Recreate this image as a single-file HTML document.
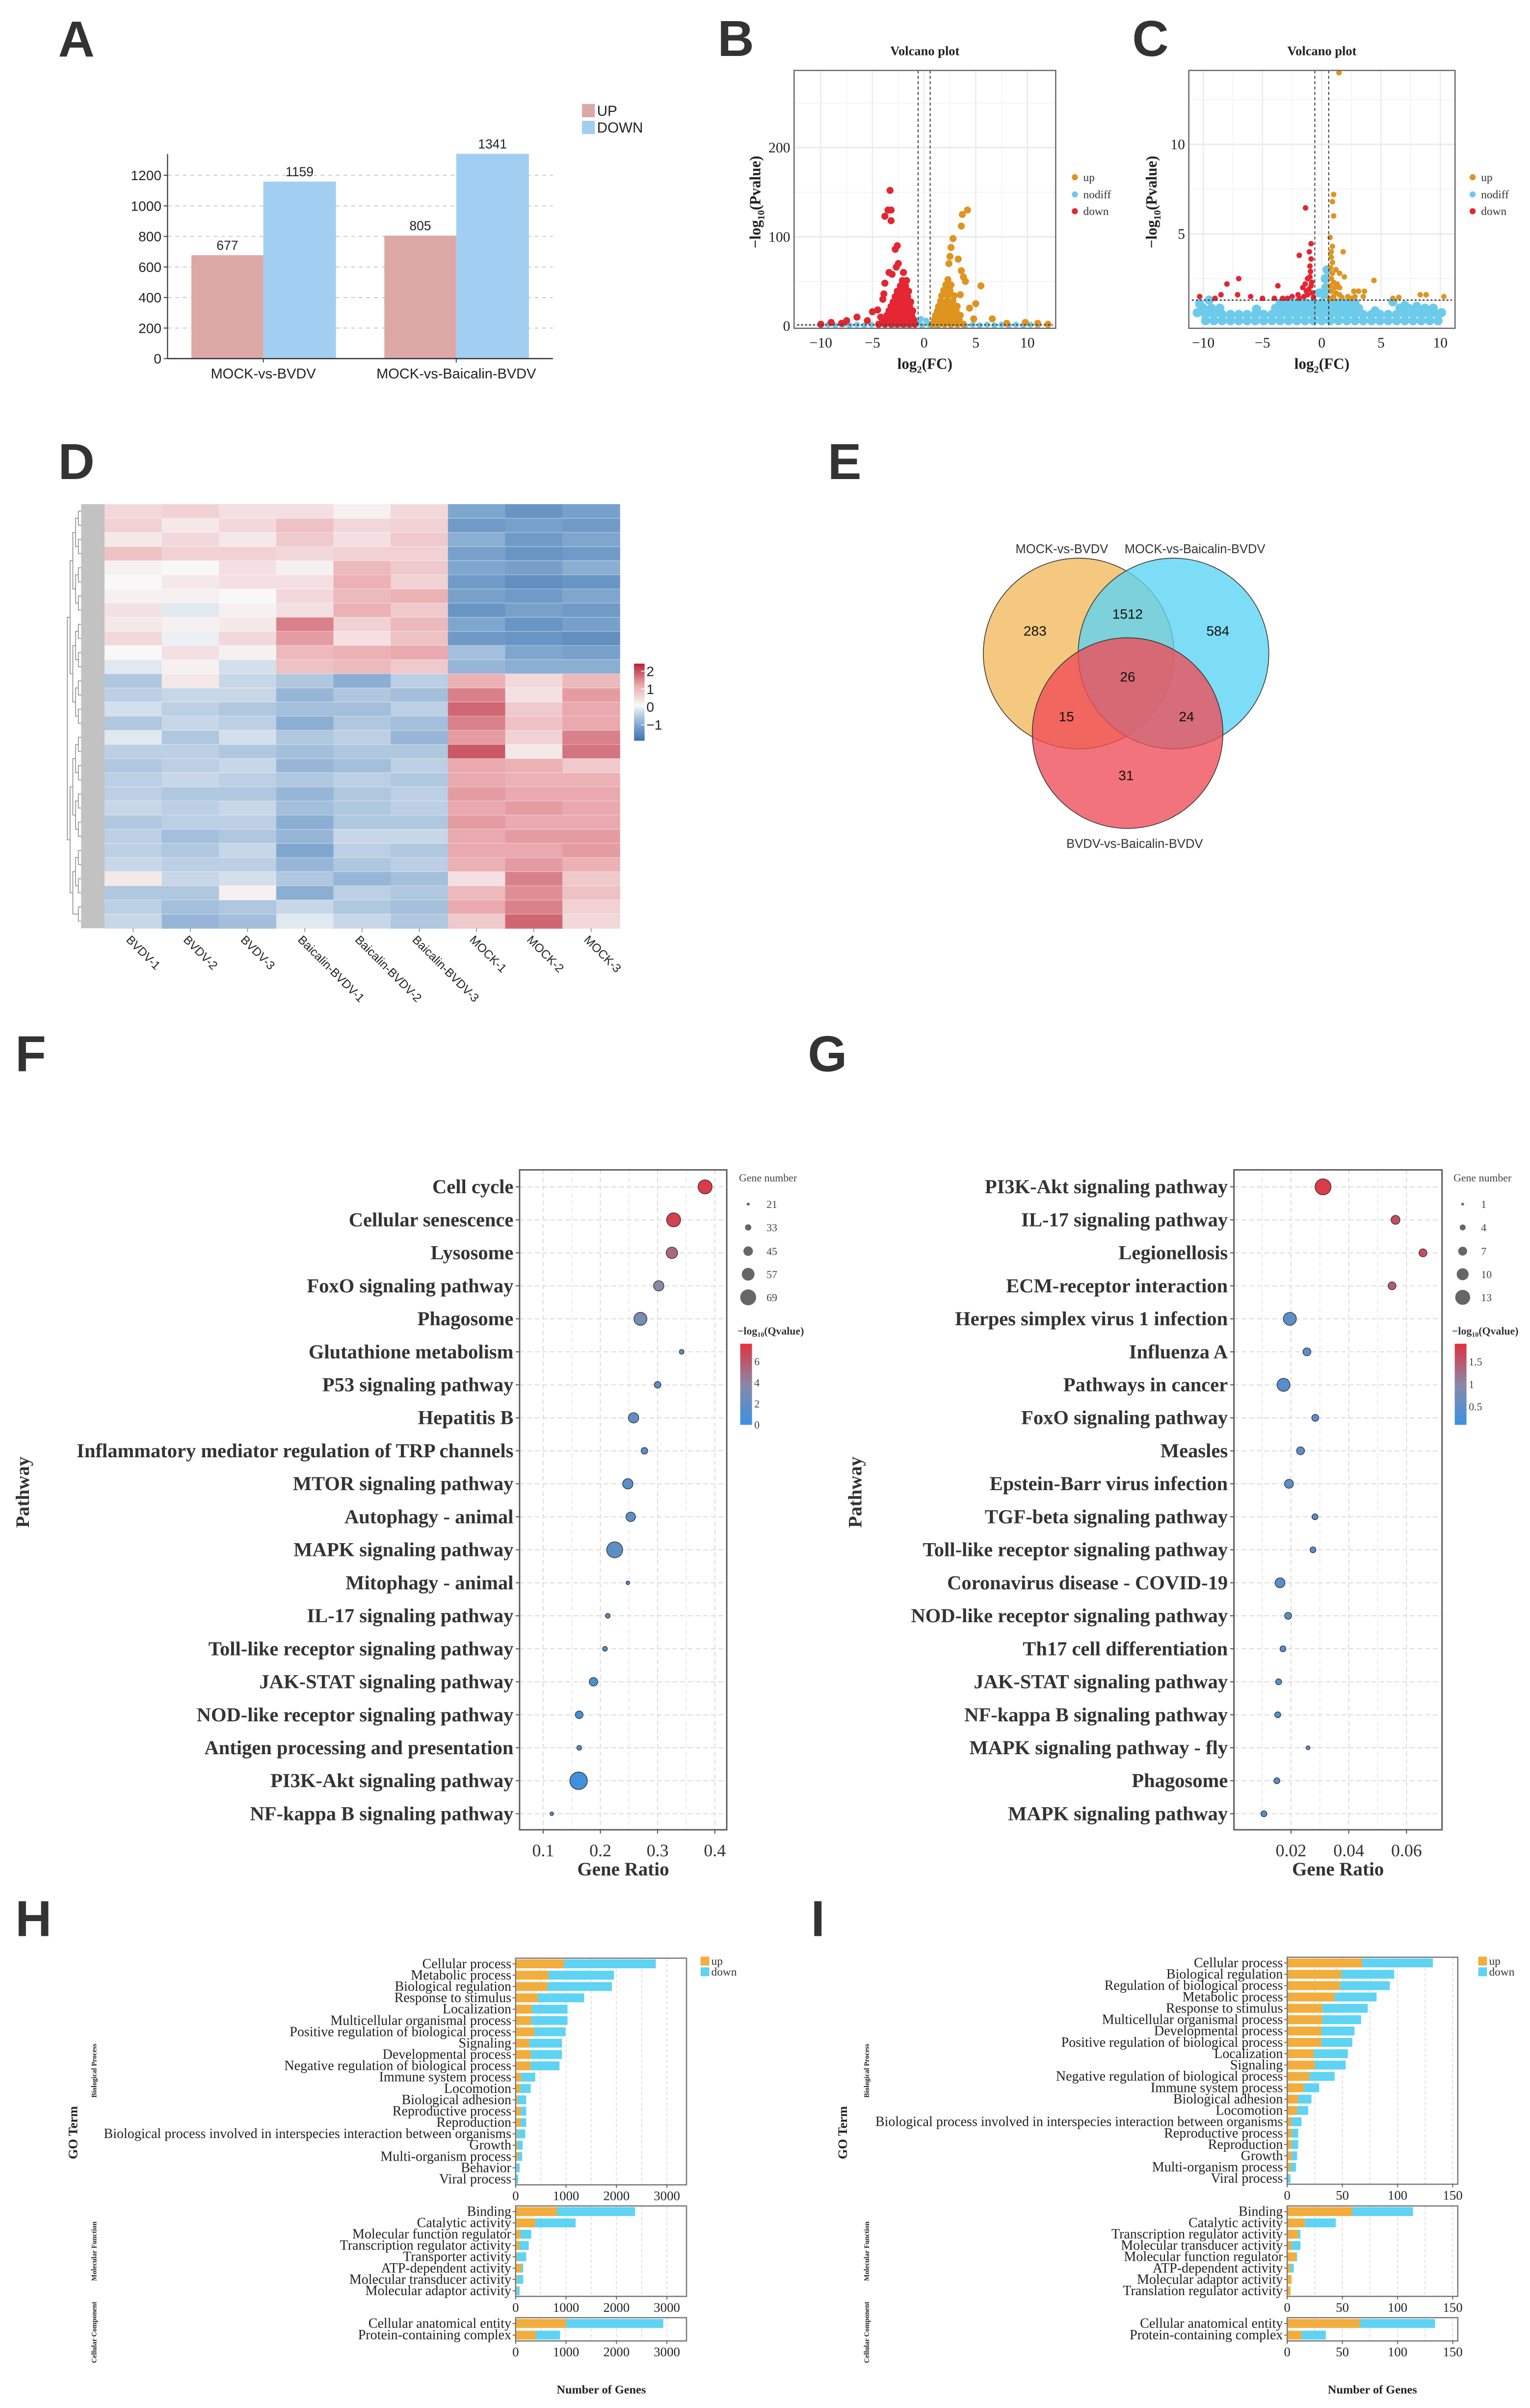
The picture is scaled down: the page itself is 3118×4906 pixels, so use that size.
<!DOCTYPE html>
<html><head><meta charset="utf-8">
<style>
html,body{margin:0;padding:0;background:#fff;}
svg{display:block;}
</style></head>
<body>
<svg id="fig" xmlns="http://www.w3.org/2000/svg" width="3118" height="4906" viewBox="0 0 1000 1573.4">
<rect x="0" y="0" width="1000" height="1573.4" fill="#fff"/>
<defs>
<linearGradient id="hmGrad" x1="0" y1="0" x2="0" y2="1">
<stop offset="0" stop-color="#b52435"/><stop offset="0.28" stop-color="#e9a9ae"/><stop offset="0.54" stop-color="#f8f8f8"/><stop offset="0.8" stop-color="#7fa6cf"/><stop offset="1" stop-color="#3d72ad"/>
</linearGradient>
<linearGradient id="qGrad" x1="0" y1="0" x2="0" y2="1">
<stop offset="0" stop-color="#e2323f"/><stop offset="0.5" stop-color="#8a88a6"/><stop offset="1" stop-color="#3a92e2"/>
</linearGradient>
</defs>
</svg>
<script>
// ---------- DATA ----------
const aCats=['MOCK-vs-BVDV','MOCK-vs-Baicalin-BVDV'];
const aUp=[677,805];
const aDown=[1159,1341];
const aTicks=[0,200,400,600,800,1000,1200];

const bDown=[[-4.4,2],[-3.8,2],[-3.2,2],[-2.6,2],[-2.0,2],[-1.4,2],[-0.9,2],[-4.0,7],[-3.4,7],[-2.8,7],[-2.2,7],[-1.6,7],[-1.0,7],[-3.6,12],[-3.0,12],[-2.4,12],[-1.8,12],[-1.2,12],[-3.4,17],[-2.8,17],[-2.2,17],[-1.6,17],[-1.1,17],[-3.2,22],[-2.6,22],[-2.0,22],[-1.4,22],[-3.0,27],[-2.4,27],[-1.8,27],[-1.3,27],[-2.8,33],[-2.2,33],[-1.6,33],[-2.6,39],[-2.0,39],[-1.5,39],[-2.3,45],[-1.8,45],[-2.1,51],[-1.7,51],[-3.3,152],[-3.5,130],[-3.2,130],[-3.8,123],[-3.2,118],[-2.6,90],[-2.8,86],[-2.5,70],[-2.7,66],[-3.4,60],[-3.1,58],[-2.0,60],[-3.8,48],[-4.5,18],[-5,16],[-4.2,10],[-6.5,10],[-7.5,6],[-9,4],[-8,3],[-10,2],[-5.5,6],[-3.9,36],[-4,30],[-2.9,4],[-1.9,4]];
const bUp=[[0.8,2],[1.4,2],[2.0,2],[2.6,2],[3.2,2],[3.8,2],[1.0,7],[1.6,7],[2.2,7],[2.8,7],[3.4,7],[1.1,12],[1.7,12],[2.3,12],[2.9,12],[3.5,12],[1.3,17],[1.9,17],[2.5,17],[3.1,17],[1.4,22],[2.0,22],[2.6,22],[3.2,22],[1.6,28],[2.2,28],[2.8,28],[1.7,34],[2.3,34],[2.9,34],[1.9,40],[2.5,40],[2.1,46],[2.6,46],[2.3,52],[4.2,130],[3.7,125],[3.6,112],[2.8,98],[2.6,88],[2.5,78],[3.3,75],[2.4,70],[3.6,62],[3.8,55],[4,50],[5.5,45],[3.5,35],[5,25],[4.4,20],[6.6,8],[4.8,8],[9.8,4],[11,3],[12,2],[8,3]];
const bNodiff=[[-10,0.8],[-9.3,1.5],[-8.6,0.8],[-7.9,1.5],[-7.2,0.8],[-6.5,1.5],[-5.8,0.8],[-5.1,1.5],[-4.4,0.8],[-3.7,1.5],[-3,0.8],[-2.3,1.5],[-1.6,0.8],[-0.9,1.5],[-0.2,0.8],[0.5,1.5],[1.2,0.8],[1.9,1.5],[2.6,0.8],[3.3,1.5],[4,0.8],[4.7,1.5],[5.4,0.8],[6.1,1.5],[6.8,0.8],[7.5,1.5],[8.2,0.8],[8.9,1.5],[9.6,0.8],[10.3,1.5],[11,0.8],[-0.3,8],[0.2,6],[-0.5,4],[0.4,3]];

const cNodiff=[[-9.8,0.15],[-9.1,0.15],[-8.4,0.15],[-7.7,0.15],[-7.0,0.15],[-6.3,0.15],[-5.6,0.15],[-4.9,0.15],[-4.2,0.15],[-3.5,0.15],[-2.8,0.15],[-2.1,0.15],[-1.4,0.15],[-0.7,0.15],[0,0.15],[0.7,0.15],[1.4,0.15],[2.1,0.15],[2.8,0.15],[3.5,0.15],[4.2,0.15],[4.9,0.15],[5.6,0.15],[6.3,0.15],[7.0,0.15],[7.7,0.15],[8.4,0.15],[9.1,0.15],[9.8,0.15],
[-9.8,0.5],[-9.1,0.5],[-8.4,0.5],[-7.7,0.5],[-7.0,0.5],[-6.3,0.5],[-5.6,0.5],[-4.9,0.5],[-4.2,0.5],[-3.5,0.5],[-2.8,0.5],[-2.1,0.5],[-1.4,0.5],[-0.7,0.5],[0,0.5],[0.7,0.5],[1.4,0.5],[2.1,0.5],[2.8,0.5],[3.5,0.5],[4.2,0.5],[4.9,0.5],[5.6,0.5],[6.3,0.5],[7.0,0.5],[7.7,0.5],[8.4,0.5],[9.1,0.5],[9.8,0.5],
[-10,0.85],[-9.3,0.85],[-8.6,0.85],[-3.9,0.85],[-3.2,0.85],[-2.5,0.85],[-1.8,0.85],[-1.1,0.85],[-0.4,0.85],[0.3,0.85],[1.0,0.85],[1.7,0.85],[2.4,0.85],[3.1,0.85],[6.6,0.85],[7.3,0.85],[8.0,0.85],[8.7,0.85],[9.4,0.85],[10.1,0.6],
[-3.5,1.15],[-2.8,1.15],[-2.1,1.15],[-1.4,1.15],[-0.7,1.15],[0,1.15],[0.7,1.15],[1.4,1.15],[2.1,1.15],[2.8,1.15],
[-10.5,0.6],[-10.3,1.1],[-9.5,1.3],[0.3,2.5],[0.45,3.0],[0.35,2.0],[-0.2,1.7],[0.2,1.6],[6,1.2],[7,1.0],[8,0.95],[-5.5,0.8],[4.5,0.7]];
const cDown=[[-1.37,6.45],[-0.9,4.45],[-1.9,3.8],[-0.9,3.6],[-1.0,3.2],[-0.95,2.9],[-1.2,2.5],[-1.4,2.2],[-0.9,2.1],[-1.1,1.9],[-1.6,2.0],[-1.3,1.8],[-0.8,1.7],[-1.2,1.6],[-2.0,1.6],[-2.5,1.5],[-3.7,2.1],[-1.9,1.4],[-2.9,1.4],[-4,1.4],[-6,1.5],[-7,2.5],[-7.1,1.6],[-8,2.2],[-8.5,1.6],[-10.3,1.5],[-9,1.4],[-1.0,2.6],[-0.85,2.3],[-1.5,1.5],[-0.7,1.45],[-3.3,1.4],[-5,1.4],[-1.05,4.0]];
const cUp=[[1.45,14.0],[1.0,7.2],[0.9,6.8],[1.0,6.0],[0.7,4.8],[0.9,4.3],[0.8,4.0],[1.8,4.0],[0.8,3.7],[0.9,3.4],[0.75,3.1],[1.2,3.0],[0.9,2.8],[1.5,2.8],[1.9,2.6],[0.8,2.5],[1.0,2.3],[1.3,2.2],[0.7,2.1],[1.1,2.0],[4.4,2.4],[2.7,1.8],[3.1,1.8],[3.6,1.8],[0.8,1.8],[1.2,1.7],[1.5,1.6],[2.2,1.5],[2.8,1.5],[3.5,1.5],[8.3,1.6],[8.8,1.6],[10.3,1.5],[6,1.4],[6.5,1.45],[1.7,1.45],[2.5,1.4],[0.65,1.4],[1.0,1.5],[1.5,2.0],[1.0,1.4]];

const hmCols=['BVDV-1','BVDV-2','BVDV-3','Baicalin-BVDV-1','Baicalin-BVDV-2','Baicalin-BVDV-3','MOCK-1','MOCK-2','MOCK-3'];
const hmVals=[
[0.4,0.5,0.3,0.3,0.1,0.4,-1.0,-1.3,-1.1],
[0.5,0.2,0.4,0.7,0.4,0.5,-1.2,-1.1,-1.2],
[0.2,0.4,0.2,0.6,0.3,0.6,-0.9,-1.2,-1.0],
[0.7,0.5,0.5,0.4,0.5,0.5,-1.1,-1.3,-1.2],
[0.1,0.0,0.3,0.1,0.8,0.6,-1.0,-1.1,-0.9],
[0.0,0.2,0.3,0.3,0.9,0.5,-1.2,-1.4,-1.3],
[0.1,0.1,0.0,0.4,0.8,0.9,-1.1,-1.2,-1.0],
[0.3,-0.2,0.1,0.3,0.9,0.6,-1.3,-1.1,-1.2],
[0.2,0.1,0.2,1.3,0.5,0.8,-1.0,-1.3,-1.1],
[0.4,-0.1,0.4,1.1,0.3,0.7,-1.2,-1.3,-1.4],
[0.0,0.3,0.1,0.8,0.9,1.0,-0.7,-1.0,-1.1],
[-0.2,0.1,-0.3,0.7,0.8,0.6,-0.8,-0.9,-0.9],
[-0.6,0.2,-0.4,-0.6,-0.9,-0.5,0.9,0.4,0.8],
[-0.5,-0.4,-0.4,-0.8,-0.6,-0.7,1.3,0.3,1.1],
[-0.3,-0.5,-0.6,-0.7,-0.7,-0.5,1.5,0.6,1.0],
[-0.6,-0.4,-0.5,-0.9,-0.6,-0.7,1.3,0.7,1.0],
[-0.2,-0.6,-0.3,-0.6,-0.5,-0.8,1.1,0.5,1.3],
[-0.5,-0.5,-0.6,-0.7,-0.6,-0.6,1.6,0.2,1.4],
[-0.6,-0.5,-0.4,-0.8,-0.7,-0.5,1.0,0.9,0.6],
[-0.5,-0.4,-0.5,-0.6,-0.5,-0.6,1.0,0.9,0.9],
[-0.5,-0.6,-0.6,-0.8,-0.6,-0.5,1.1,1.0,1.0],
[-0.4,-0.5,-0.4,-0.7,-0.6,-0.5,1.0,1.1,1.0],
[-0.6,-0.5,-0.5,-0.9,-0.6,-0.6,1.1,1.0,1.0],
[-0.5,-0.7,-0.6,-0.8,-0.4,-0.4,1.0,1.1,1.1],
[-0.5,-0.6,-0.4,-1.0,-0.5,-0.6,1.0,1.0,1.1],
[-0.4,-0.5,-0.5,-0.8,-0.6,-0.5,0.9,1.1,0.9],
[0.2,-0.4,-0.3,-0.6,-0.8,-0.7,0.3,1.3,0.6],
[-0.6,-0.6,0.1,-0.9,-0.5,-0.6,0.8,1.2,0.7],
[-0.5,-0.7,-0.6,-0.4,-0.6,-0.7,1.0,1.3,0.5],
[-0.4,-0.8,-0.7,-0.2,-0.4,-0.6,0.6,1.5,0.4]];
const hmTicks=[2,1,0,-1];

const vennLabels=['MOCK-vs-BVDV','MOCK-vs-Baicalin-BVDV','BVDV-vs-Baicalin-BVDV'];
const vennCounts=[283,1512,584,26,15,24,31];

const fPath=['Cell cycle','Cellular senescence','Lysosome','FoxO signaling pathway','Phagosome','Glutathione metabolism','P53 signaling pathway','Hepatitis B','Inflammatory mediator regulation of TRP channels','MTOR signaling pathway','Autophagy - animal','MAPK signaling pathway','Mitophagy - animal','IL-17 signaling pathway','Toll-like receptor signaling pathway','JAK-STAT signaling pathway','NOD-like receptor signaling pathway','Antigen processing and presentation','PI3K-Akt signaling pathway','NF-kappa B signaling pathway'];
const fRatio=[0.383,0.328,0.325,0.302,0.270,0.342,0.300,0.258,0.277,0.248,0.253,0.225,0.248,0.213,0.208,0.188,0.163,0.163,0.162,0.115];
const fCount=[62,62,52,48,58,27,34,48,34,48,45,69,23,27,27,41,38,27,75,23];
const fQ=[7.2,7.0,5.2,3.6,3.0,2.0,1.5,1.8,1.5,1.6,1.5,1.7,1.0,0.8,0.8,0.7,0.5,0.5,0.3,0.5];
const fTicks=[0.1,0.2,0.3,0.4];
const fSizeLegend=[21,33,45,57,69];
const fQTicks=[6,4,2,0];

const gPath=['PI3K-Akt signaling pathway','IL-17 signaling pathway','Legionellosis','ECM-receptor interaction','Herpes simplex virus 1 infection','Influenza A','Pathways in cancer','FoxO signaling pathway','Measles','Epstein-Barr virus infection','TGF-beta signaling pathway','Toll-like receptor signaling pathway','Coronavirus disease - COVID-19','NOD-like receptor signaling pathway','Th17 cell differentiation','JAK-STAT signaling pathway','NF-kappa B signaling pathway','MAPK signaling pathway - fly','Phagosome','MAPK signaling pathway'];
const gRatio=[0.0311,0.0562,0.0657,0.055,0.0196,0.0255,0.0174,0.0284,0.0233,0.0193,0.0283,0.0276,0.0162,0.019,0.0172,0.0157,0.0154,0.0259,0.0151,0.0106];
const gCount=[14,7,6,6,11,6,11,5,6,7,4,4,8,5,4,4,4,2,4,4];
const gQ=[1.8,1.6,1.6,1.5,0.4,0.4,0.35,0.4,0.4,0.4,0.35,0.35,0.35,0.35,0.3,0.3,0.3,0.3,0.3,0.3];
const gTicks=[0.02,0.04,0.06];
const gSizeLegend=[1,4,7,10,13];
const gQTicks=[1.5,1,0.5];

const hBP=['Cellular process','Metabolic process','Biological regulation','Response to stimulus','Localization','Multicellular organismal process','Positive regulation of biological process','Signaling','Developmental process','Negative regulation of biological process','Immune system process','Locomotion','Biological adhesion','Reproductive process','Reproduction','Biological process involved in interspecies interaction between organisms','Growth','Multi-organism process','Behavior','Viral process'];
const hBPup=[960,650,630,440,320,310,370,270,300,300,110,90,40,100,100,30,40,50,20,10];
const hBPdown=[1820,1300,1280,920,710,720,620,650,620,570,280,210,170,110,110,160,100,80,60,40];
const hMF=['Binding','Catalytic activity','Molecular function regulator','Transcription regulator activity','Transporter activity','ATP-dependent activity','Molecular transducer activity','Molecular adaptor activity'];
const hMFup=[820,390,100,80,30,110,30,20];
const hMFdown=[1550,800,210,180,180,40,120,60];
const hCC=['Cellular anatomical entity','Protein-containing complex'];
const hCCup=[1000,400];
const hCCdown=[1930,480];
const hTicks=[0,1000,2000,3000];

const iBP=['Cellular process','Biological regulation','Regulation of biological process','Metabolic process','Response to stimulus','Multicellular organismal process','Developmental process','Positive regulation of biological process','Localization','Signaling','Negative regulation of biological process','Immune system process','Biological adhesion','Locomotion','Biological process involved in interspecies interaction between organisms','Reproductive process','Reproduction','Growth','Multi-organism process','Viral process'];
const iBPup=[68,49,48,43,32,32,31,31,24,25,20,15,10,9,4,4,4,4,3,0];
const iBPdown=[64,48,45,38,41,35,30,28,31,28,23,14,12,10,9,6,6,5,5,3];
const iMF=['Binding','Catalytic activity','Transcription regulator activity','Molecular transducer activity','Molecular function regulator','ATP-dependent activity','Molecular adaptor activity','Translation regulator activity'];
const iMFup=[59,16,10,4,8,3,4,3];
const iMFdown=[55,28,2,8,1,3,0,0];
const iCC=['Cellular anatomical entity','Protein-containing complex'];
const iCCup=[66,13];
const iCCdown=[68,22];
const iTicks=[0,50,100,150];

// ---------- HELPERS ----------
const NS='http://www.w3.org/2000/svg';
const svg=document.getElementById('fig');
const SANS='"Liberation Sans", Arial, sans-serif';
const SERIF='"Liberation Serif", "Times New Roman", serif';
function mk(tag,attrs,parent){const e=document.createElementNS(NS,tag);for(const k in attrs)e.setAttribute(k,attrs[k]);(parent||svg).appendChild(e);return e;}
function tx(x,y,s,attrs,parent){const e=mk('text',Object.assign({x:x,y:y},attrs),parent);e.textContent=s;return e;}
function grp(name){const g=mk('g',{});


return g;}
function lerp(a,b,t){return Math.round(a+(b-a)*t);}
function mix(c1,c2,t){t=Math.max(0,Math.min(1,t));return 'rgb('+lerp(c1[0],c2[0],t)+','+lerp(c1[1],c2[1],t)+','+lerp(c1[2],c2[2],t)+')';}

const letters=[['A',38,36.8],['B',469,36.5],['C',740,36.5],['D',38,313],['E',541,313],['F',10,700],['G',528,700],['H',10,1265],['I',530,1265]];
letters.forEach(l=>{
  const t=tx(l[1],l[2],l[0],{'font-family':SANS,'font-size':33,'font-weight':'bold',fill:'#333'});
  
  
});

// ---------- PANEL A ----------
(function(){
  const g=grp('panel-a-bar-chart');
  const X0=109.5,X1=361.4,Y0=234.3;
  const yA=v=>Y0-v*0.0998;
  const cx=[172.1,298.2];
  aTicks.forEach(t=>{
    if(t>0){const gl=mk('line',{x1:X0,x2:X1,y1:yA(t),y2:yA(t),stroke:'#cfcfcf','stroke-width':0.7,'stroke-dasharray':'2.5,2.5'},g);
    }
    const tk=mk('line',{x1:X0-2.5,x2:X0,y1:yA(t),y2:yA(t),stroke:'#333','stroke-width':0.6},g);
    
    const lb=tx(X0-4,yA(t)+3.2,String(t),{'font-family':SANS,'font-size':9,'text-anchor':'end',fill:'#222'},g);
    
  });
  aCats.forEach((c,i)=>{
    const up=mk('rect',{x:cx[i]-47,y:yA(aUp[i]),width:47,height:Y0-yA(aUp[i]),fill:'#dca8a6'},g);
    
    
    const dn=mk('rect',{x:cx[i],y:yA(aDown[i]),width:47.5,height:Y0-yA(aDown[i]),fill:'#a2cff1'},g);
    
    
    const l1=tx(cx[i]-23.5,yA(aUp[i])-3.5,String(aUp[i]),{'font-family':SANS,'font-size':8.5,'text-anchor':'middle',fill:'#222'},g);
    
    const l2=tx(cx[i]+23.7,yA(aDown[i])-3.5,String(aDown[i]),{'font-family':SANS,'font-size':8.5,'text-anchor':'middle',fill:'#222'},g);
    
    const xt=mk('line',{x1:cx[i],x2:cx[i],y1:Y0,y2:Y0+2.5,stroke:'#333','stroke-width':0.6},g);
    
    const xl=tx(cx[i],Y0+13,c,{'font-family':SANS,'font-size':9.3,'text-anchor':'middle',fill:'#222'},g);
    
  });
  const ax=mk('line',{x1:X0,x2:X0,y1:100.6,y2:Y0,stroke:'#333','stroke-width':0.7},g);
  
  const ax2=mk('line',{x1:X0,x2:X1,y1:Y0,y2:Y0,stroke:'#333','stroke-width':0.8},g);
  
  const r1=mk('rect',{x:380.4,y:67.9,width:8.3,height:8.7,fill:'#dca8a6'},g);
  
  const r2=mk('rect',{x:380.4,y:78.9,width:8.3,height:8.7,fill:'#a2cff1'},g);
  
  const t1=tx(390.2,75.6,'UP',{'font-family':SANS,'font-size':9.5,fill:'#222'},g);
  
  const t2=tx(390.2,86.6,'DOWN',{'font-family':SANS,'font-size':9.5,fill:'#222'},g);
  
})();

// ---------- VOLCANO ----------
function volcano(cfg){
  const g=grp(cfg.name);
  const xs=v=>cfg.x0+v*cfg.xk, ys=v=>cfg.y0-v*cfg.yk;
  const fr=mk('rect',{x:cfg.L,y:cfg.T,width:cfg.R-cfg.L,height:cfg.B-cfg.T,fill:'#fff',stroke:'none'},g);
  
  cfg.xMinor.forEach(v=>{const l=mk('line',{x1:xs(v),x2:xs(v),y1:cfg.T,y2:cfg.B,stroke:'#f3f3f3','stroke-width':0.5},g);
    });
  cfg.yMinor.forEach(v=>{const l=mk('line',{x1:cfg.L,x2:cfg.R,y1:ys(v),y2:ys(v),stroke:'#f3f3f3','stroke-width':0.6},g);
    });
  cfg.xTicks.forEach(v=>{const l=mk('line',{x1:xs(v),x2:xs(v),y1:cfg.T,y2:cfg.B,stroke:'#ebebeb','stroke-width':0.8},g);
    
    const t=tx(xs(v),cfg.B+12.5,(v<0?'\u2212':'')+Math.abs(v),{'font-family':SERIF,'font-size':9.5,'text-anchor':'middle',fill:'#222'},g);
    });
  cfg.yTicks.forEach(v=>{const l=mk('line',{x1:cfg.L,x2:cfg.R,y1:ys(v),y2:ys(v),stroke:'#ebebeb','stroke-width':1},g);
    
    const t=tx(cfg.L-2.5,ys(v)+3.2,String(v),{'font-family':SERIF,'font-size':9.5,'text-anchor':'end',fill:'#222'},g);
    });
  const dotR=cfg.r;
  cfg.nodiff.forEach(p=>{const c=mk('circle',{cx:xs(p[0]),cy:ys(p[1]),r:cfg.rn,fill:'#6ccbeb'},g);
    });
  cfg.down.forEach(p=>{const c=mk('circle',{cx:xs(p[0]),cy:ys(p[1]),r:dotR,fill:'#e32632'},g);
    });
  cfg.up.forEach(p=>{const c=mk('circle',{cx:xs(p[0]),cy:ys(p[1]),r:dotR,fill:'#df9420'},g);
    });
  [-0.585,0.585].forEach(v=>{const l=mk('line',{x1:xs(v),x2:xs(v),y1:cfg.T,y2:cfg.B,stroke:'#333','stroke-width':0.6,'stroke-dasharray':'2,1.5'},g);
    });
  const hl=mk('line',{x1:cfg.L+2,x2:cfg.R-2,y1:ys(1.3),y2:ys(1.3),stroke:'#444','stroke-width':0.9,'stroke-dasharray':'1.3,1.3'},g);
  
  const bd=mk('rect',{x:cfg.L,y:cfg.T,width:cfg.R-cfg.L,height:cfg.B-cfg.T,fill:'none',stroke:'#666','stroke-width':0.8},g);
  
  const ti=tx((cfg.L+cfg.R)/2,36,'Volcano plot',{'font-family':SERIF,'font-size':8.5,'font-weight':'bold','text-anchor':'middle',fill:'#222'},g);
  
  const yl=mk('text',{x:0,y:0,transform:'translate('+cfg.ylx+',132) rotate(-90)','font-family':SERIF,'font-size':10,'font-weight':'bold','text-anchor':'middle',fill:'#222'},g);
  yl.innerHTML='\u2212log<tspan font-size="6.5" dy="2.5">10</tspan><tspan dy="-2.5">(Pvalue)</tspan>';
  
  const xl=mk('text',{x:(cfg.L+cfg.R)/2,y:241,'font-family':SERIF,'font-size':10,'font-weight':'bold','text-anchor':'middle',fill:'#222'},g);
  xl.innerHTML='log<tspan font-size="6.5" dy="2.5">2</tspan><tspan dy="-2.5">(FC)</tspan>';
  
  const leg=[['up','#df9420',118.3],['nodiff','#6ccbeb',129.5],['down','#e32632',140.5]];
  leg.forEach(l=>{const c=mk('circle',{cx:cfg.legX,cy:l[2]-2.5,r:2,fill:l[1]},g);
    
    const t=tx(cfg.legX+5.5,l[2],l[0],{'font-family':SERIF,'font-size':7.5,fill:'#333'},g);
    });
}
volcano({name:'panel-b-volcano',L:519,R:690,T:46,B:214.5,x0:604,xk:6.75,y0:213,yk:0.583,xTicks:[-10,-5,0,5,10],yTicks:[0,100,200],xMinor:[-7.5,-2.5,2.5,7.5],yMinor:[50,150,250],up:bUp,down:bDown,nodiff:bNodiff,r:2.3,rn:1.9,ylx:497,legX:702.5});
volcano({name:'panel-c-volcano',L:777,R:951,T:46,B:214.5,x0:863.9,xk:7.75,y0:211.3,yk:11.7,xTicks:[-10,-5,0,5,10],yTicks:[5,10],xMinor:[-7.5,-2.5,2.5,7.5],yMinor:[2.5,7.5,12.5],up:cUp,down:cDown,nodiff:cNodiff,r:1.8,rn:3.0,ylx:756,legX:962.5});

// ---------- PANEL D HEATMAP ----------
(function(){
  const g=grp('panel-d-heatmap');
  const L=68.3,R=405,T=329.4,B=606.5;
  const cw=(R-L)/hmCols.length, rh=(B-T)/hmVals.length;
  const blue2=[61,114,173],blue1=[127,166,207],white=[248,248,248],red1=[233,169,174],red2=[181,36,53];
  function col(v){if(v>=0){return v<=1?mix(white,red1,v):mix(red1,red2,(v-1));}
    const a=-v;return a<=1?mix(white,blue1,a):mix(blue1,blue2,(a-1)/0.9);}
  hmVals.forEach((row,ri)=>{row.forEach((v,ci)=>{
    const c=mk('rect',{x:L+ci*cw,y:T+ri*rh,width:cw+0.3,height:rh+0.3,fill:col(v)},g);
    
  });});
  for(let i=1;i<hmVals.length;i++){const l=mk('line',{x1:L,x2:R,y1:T+i*rh,y2:T+i*rh,stroke:'#ffffff','stroke-width':0.35,'stroke-opacity':0.5},g);
    }
  const lb=mk('rect',{x:53,y:T,width:L-53,height:B-T,fill:'#c2c2c2'},g);
  
  let nodes=hmVals.map((r,i)=>({y:T+(i+0.5)*rh,x:53}));
  let lvl=0;
  while(nodes.length>1){const nx=[];lvl++;
    for(let i=0;i<nodes.length;i+=2){
      if(i+1>=nodes.length){nx.push(nodes[i]);continue;}
      const a=nodes[i],b=nodes[i+1];const x=53-lvl*1.8;
      const p=mk('path',{d:'M'+a.x+','+a.y+'H'+x+'V'+b.y+'H'+b.x,fill:'none',stroke:'#8a8a8a','stroke-width':0.5},g);
      
      nx.push({x:x,y:(a.y+b.y)/2});}
    nodes=nx;}
  hmCols.forEach((c,i)=>{const cx=L+(i+0.5)*cw;
    const tk=mk('line',{x1:cx,x2:cx,y1:B,y2:B+2.5,stroke:'#888','stroke-width':0.5},g);
    
    const t=tx(0,0,c,{transform:'translate('+(cx-5)+','+(B+8)+') rotate(45)','font-family':SANS,'font-size':7.8,fill:'#222'},g);
    });
  const cb=mk('rect',{x:414.4,y:433.6,width:6.9,height:50.4,fill:'url(#hmGrad)'},g);
  
  hmTicks.forEach(v=>{const y=461.9-v*11.7;
    const t=tx(422.5,y+3.2,(v<0?'\u2212':'')+Math.abs(v),{'font-family':SANS,'font-size':9,fill:'#222'},g);
    
    const tk=mk('line',{x1:419,x2:421.3,y1:y,y2:y,stroke:'#fff','stroke-width':0.5},g);
    });
})();

// ---------- PANEL E VENN ----------
(function(){
  const g=grp('panel-e-venn');
  const circ=[[705,427,'#f1b95a'],[767,427,'#5ad3f3'],[737,479,'#ef4b57']];
  circ.forEach((c,i)=>{const e=mk('circle',{cx:c[0],cy:c[1],r:62.3,fill:c[2],'fill-opacity':0.78,stroke:'#333','stroke-width':0.5},g);
    
    });
  const pos=[[676.5,412],[737,401],[796,412],[737,442],[697,468],[775.5,468],[736,506.5]];
  vennCounts.forEach((n,i)=>{const t=tx(pos[i][0],pos[i][1]+3.3,String(n),{'font-family':SANS,'font-size':9,'text-anchor':'middle',fill:'#111'},g);
    });
  const lp=[[694,361.5],[781,361.5],[741.6,554]];
  vennLabels.forEach((l,i)=>{const t=tx(lp[i][0],lp[i][1],l,{'font-family':SANS,'font-size':8.2,'text-anchor':'middle',fill:'#333'},g);
    });
})();

// ---------- BUBBLE CHARTS ----------
function bubble(cfg){
  const g=grp(cfg.name);
  const xs=v=>cfg.x0+(v-cfg.xv0)*cfg.xk;
  const rowY=i=>775.5+i*21.56;
  const L=cfg.L,R=cfg.R,T=764.4,B=1195.6;
  cfg.ticks.forEach(v=>{const l=mk('line',{x1:xs(v),x2:xs(v),y1:T,y2:B,stroke:'#d9d9d9','stroke-width':0.6,'stroke-dasharray':'3,2'},g);
    
    const tk=mk('line',{x1:xs(v),x2:xs(v),y1:B,y2:B+2.5,stroke:'#444','stroke-width':0.6},g);
    
    const t=tx(xs(v),1213,String(v),{'font-family':SERIF,'font-size':11.5,'text-anchor':'middle',fill:'#333'},g);
    });
  cfg.minor.forEach(v=>{const l=mk('line',{x1:xs(v),x2:xs(v),y1:T,y2:B,stroke:'#e6e6e6','stroke-width':0.5,'stroke-dasharray':'3,2'},g);
    });
  cfg.path.forEach((p,i)=>{const y=rowY(i);
    const l=mk('line',{x1:L,x2:R,y1:y,y2:y,stroke:'#d9d9d9','stroke-width':0.6,'stroke-dasharray':'3,2'},g);
    
    const tk=mk('line',{x1:L-2.5,x2:L,y1:y,y2:y,stroke:'#444','stroke-width':0.6},g);
    
    const t=tx(L-4,y+4.2,p,{'font-family':SERIF,'font-size':13,'font-weight':'bold','text-anchor':'end',fill:'#333'},g);
    });
  cfg.ratio.forEach((v,i)=>{const c=mk('circle',{cx:xs(v),cy:rowY(i),r:cfg.rad(cfg.count[i]),fill:cfg.qcol(cfg.q[i]),stroke:'#333','stroke-width':0.45},g);
    
    });
  const bd=mk('rect',{x:L,y:T,width:R-L,height:B-T,fill:'none',stroke:'#555','stroke-width':0.9},g);
  
  const xl=tx((L+R)/2,1225.5,'Gene Ratio',{'font-family':SERIF,'font-size':12.5,'font-weight':'bold','text-anchor':'middle',fill:'#333'},g);
  
  const yl=tx(0,0,'Pathway',{transform:'translate('+cfg.ylx+',975) rotate(-90)','font-family':SERIF,'font-size':12.5,'font-weight':'bold','text-anchor':'middle',fill:'#333'},g);
  
  const lt=tx(cfg.legX,772,'Gene number',{'font-family':SERIF,'font-size':7,fill:'#444'},g);
  
  const ly=[786.8,802,817.5,832.6,847.7];
  cfg.sizes.forEach((n,i)=>{const c=mk('circle',{cx:cfg.legX+6,cy:ly[i],r:cfg.rad(n),fill:'#666'},g);
    
    const t=tx(cfg.legX+18,ly[i]+2.5,String(n),{'font-family':SERIF,'font-size':7,fill:'#444'},g);
    });
  const qt=mk('text',{x:cfg.legX-1,y:872,'font-family':SERIF,'font-size':7,'font-weight':'bold',fill:'#333'},g);
  qt.innerHTML='\u2212log<tspan font-size="4.5" dy="1.5">10</tspan><tspan dy="-1.5">(Qvalue)</tspan>';
  
  const cb=mk('rect',{x:cfg.legX+0.8,y:878,width:7.7,height:53,fill:'url(#qGrad)'},g);
  
  cfg.qticks.forEach(v=>{const y=cfg.q0y-v*cfg.qk;
    const t=tx(cfg.legX+10,y+2.5,String(v),{'font-family':SERIF,'font-size':7,fill:'#444'},g);
    });
}
const cBlue=[58,146,226],cMid=[138,136,166],cRed=[226,50,63];
function qc(q,max){const t=q/max;return t<0.5?mix(cBlue,cMid,t*2):mix(cMid,cRed,(t-0.5)*2);}
bubble({name:'panel-f-kegg-bubble',L:339.6,R:475,x0:355,xv0:0.1,xk:374,ticks:fTicks,minor:[0.15,0.25,0.35],path:fPath,ratio:fRatio,count:fCount,q:fQ,
  rad:n=>1+(n-21)*0.0875,qcol:q=>qc(q,7.6),ylx:19,legX:483,sizes:fSizeLegend,qticks:fQTicks,q0y:931,qk:6.9});
bubble({name:'panel-g-kegg-bubble',L:806.5,R:942.5,x0:843.8,xv0:0.02,xk:1887,ticks:gTicks,minor:[0.01,0.03,0.05],path:gPath,ratio:gRatio,count:gCount,q:gQ,
  rad:n=>0.6+n*0.33,qcol:q=>qc(q,1.9),ylx:563,legX:950,sizes:gSizeLegend,qticks:gQTicks,q0y:933.7,qk:29.3});

// ---------- GO BAR CHARTS ----------
function goChart(cfg){
  const g=grp(cfg.name);
  const xs=v=>cfg.x0+v*cfg.k;
  cfg.sections.forEach(s=>{
    const n=s.labels.length, sp=(s.B-s.T)/n;
    const bg=mk('rect',{x:cfg.x0,y:s.T,width:cfg.R-cfg.x0,height:s.B-s.T,fill:'#fff'},g);
    
    cfg.grid.forEach(v=>{const l=mk('line',{x1:xs(v),x2:xs(v),y1:s.T,y2:s.B,stroke:'#d8d8d8','stroke-width':0.5,'stroke-dasharray':'2,1.5'},g);
      });
    s.labels.forEach((lab,i)=>{const y=s.T+(i+0.5)*sp;
      const u=mk('rect',{x:cfg.x0,y:y-2.9,width:s.up[i]*cfg.k,height:5.8,fill:'#f2ad3d'},g);
      
      
      const d=mk('rect',{x:xs(s.up[i]),y:y-2.9,width:s.down[i]*cfg.k,height:5.8,fill:'#5ed3f3'},g);
      
      
      const tk=mk('line',{x1:cfg.x0-2,x2:cfg.x0,y1:y,y2:y,stroke:'#444','stroke-width':0.5},g);
      
      const t=tx(cfg.x0-2.8,y+2.8,lab,{'font-family':SERIF,'font-size':9,'text-anchor':'end',fill:'#222'},g);
      });
    const bd=mk('rect',{x:cfg.x0,y:s.T,width:cfg.R-cfg.x0,height:s.B-s.T,fill:'none',stroke:'#777','stroke-width':0.8},g);
    
    cfg.ticks.forEach(v=>{const tk=mk('line',{x1:xs(v),x2:xs(v),y1:s.B,y2:s.B+2,stroke:'#444','stroke-width':0.5},g);
      
      const t=tx(xs(v),s.B+10,String(v),{'font-family':SERIF,'font-size':8.6,'text-anchor':'middle',fill:'#222'},g);
      });
    const sl=tx(0,0,s.title,{transform:'translate('+cfg.subX+','+s.mid+') rotate(-90)','font-family':SERIF,'font-size':4.6,'font-weight':'bold','text-anchor':'middle',fill:'#222'},g);
    
  });
  const yl=tx(0,0,'GO Term',{transform:'translate('+cfg.goX+',1393.5) rotate(-90)','font-family':SERIF,'font-size':8.5,'font-weight':'bold','text-anchor':'middle',fill:'#222'},g);
  
  const xl=tx(cfg.nX,1564,'Number of Genes',{'font-family':SERIF,'font-size':7.8,'font-weight':'bold','text-anchor':'middle',fill:'#222'},g);
  
  const r1=mk('rect',{x:cfg.legX,y:1278.5,width:5.7,height:5.8,fill:'#f2ad3d'},g);
  
  const r2=mk('rect',{x:cfg.legX,y:1285.5,width:5.7,height:5.8,fill:'#5ed3f3'},g);
  
  const t1=tx(cfg.legX+7,1283.8,'up',{'font-family':SERIF,'font-size':7.5,fill:'#333'},g);
  
  const t2=tx(cfg.legX+7,1290.8,'down',{'font-family':SERIF,'font-size':7.5,fill:'#333'},g);
  
}
goChart({name:'panel-h-go-bars',x0:337,R:448.7,k:0.03296,ticks:hTicks,grid:[500,1000,1500,2000,2500,3000],subX:63,goX:50.5,nX:393,legX:457.9,
  sections:[{T:1279.5,B:1427.6,labels:hBP,up:hBPup,down:hBPdown,title:'Biological Process',mid:1353},
            {T:1441.4,B:1500.5,labels:hMF,up:hMFup,down:hMFdown,title:'Molecular Function',mid:1471},
            {T:1514.4,B:1529.6,labels:hCC,up:hCCup,down:hCCdown,title:'Cellular Component',mid:1524}]});
goChart({name:'panel-i-go-bars',x0:841.3,R:952.8,k:0.7213,ticks:iTicks,grid:[25,50,75,100,125,150],subX:568,goX:553.5,nX:897,legX:966.2,
  sections:[{T:1278.9,B:1427.2,labels:iBP,up:iBPup,down:iBPdown,title:'Biological Process',mid:1353},
            {T:1441.4,B:1500.5,labels:iMF,up:iMFup,down:iMFdown,title:'Molecular Function',mid:1471},
            {T:1514.4,B:1529.6,labels:iCC,up:iCCup,down:iCCdown,title:'Cellular Component',mid:1524}]});
</script>
</body></html>
